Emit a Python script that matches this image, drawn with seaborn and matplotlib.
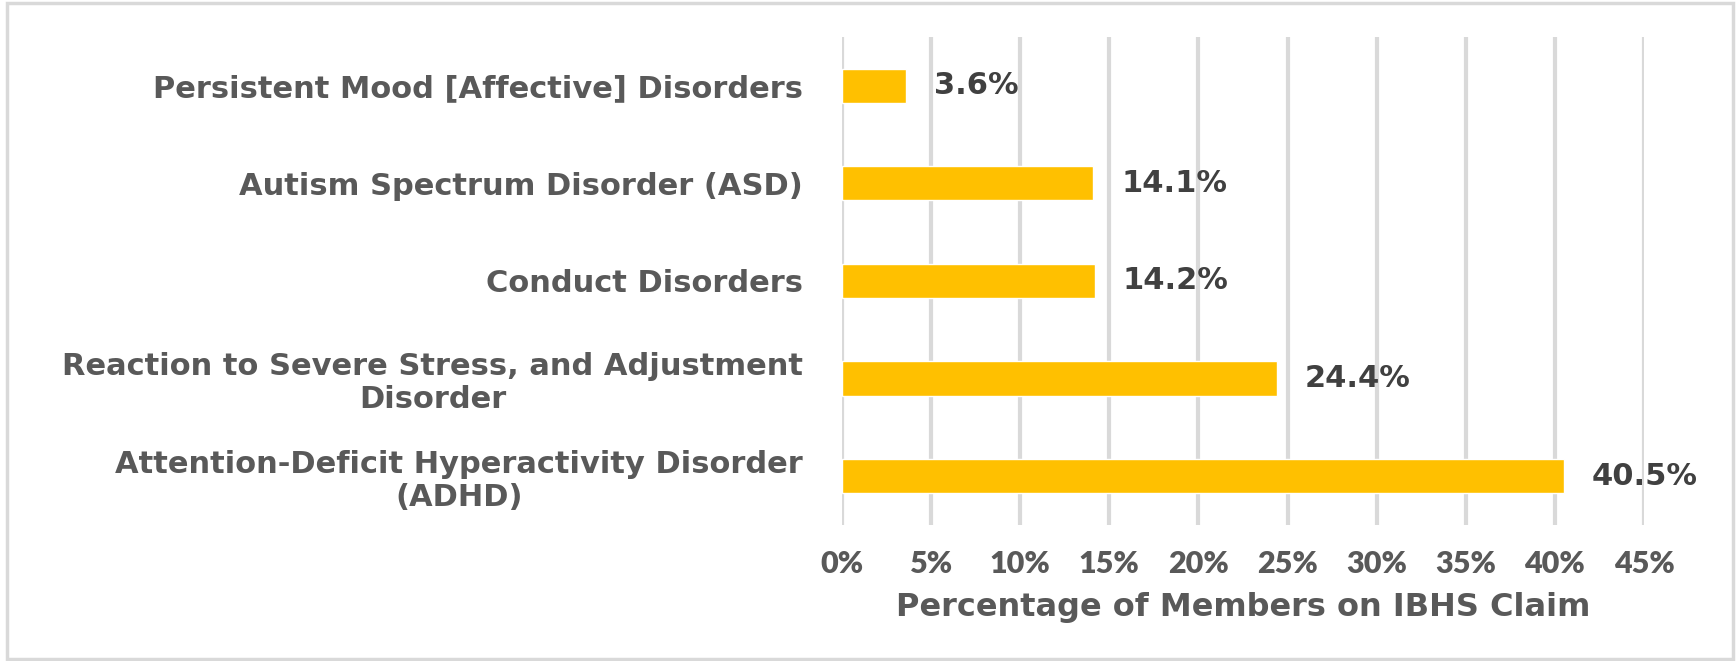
import seaborn as sns
import pandas as pd
import matplotlib.pyplot as plt
from matplotlib.patches import Rectangle
from matplotlib.ticker import MultipleLocator, FuncFormatter

categories = [
    "Persistent Mood [Affective] Disorders",
    "Autism Spectrum Disorder (ASD)",
    "Conduct Disorders",
    "Reaction to Severe Stress, and Adjustment\nDisorder",
    "Attention-Deficit Hyperactivity Disorder\n(ADHD)",
]
percentages = [3.6, 14.1, 14.2, 24.4, 40.5]
x_label = "Percentage of Members on IBHS Claim"

sns.set_theme(style="white")
plt.rcParams['font.family'] = ['Lato', 'DejaVu Sans']

df = pd.DataFrame({"category": categories, "pct": percentages})

fig = plt.figure(figsize=(17.36, 6.61), dpi=100)
ax = fig.add_axes([0.485, 0.206, 0.462, 0.738])

sns.barplot(data=df, y="category", x="pct", color="#FFC000", saturation=1,
            width=0.35, orient="h", ax=ax)

ax.set_xlim(0, 45)
ax.xaxis.set_major_locator(MultipleLocator(5))
ax.xaxis.set_major_formatter(FuncFormatter(lambda v, p: f"{v:.0f}%"))
ax.grid(axis="x", color="#d9d9d9", linewidth=3)
ax.set_axisbelow(True)
for s in ax.spines.values():
    s.set_visible(False)

ax.tick_params(axis="x", length=0, pad=18, labelsize=22, labelcolor="#595959")
ax.tick_params(axis="y", length=0, pad=28, labelsize=21, labelcolor="#595959")
for t in ax.get_xticklabels():
    t.set_fontweight("heavy")
for t in ax.get_yticklabels():
    t.set_fontweight("bold")
    t.set_family("DejaVu Sans")
    t.set_fontsize(22)
    t.set_multialignment("center")
    t.set_linespacing(1.15)

ax.set_ylabel("")
ax.set_xlabel(x_label, fontsize=23, fontweight="bold", color="#595959",
              labelpad=10, family="DejaVu Sans")

for i, v in enumerate(percentages):
    ax.annotate(f"{v}%", xy=(v, i), xytext=(20, 0), textcoords="offset points",
                va="center", ha="left", fontsize=22, fontweight="bold",
                color="#404040", family="DejaVu Sans")

fig.patches.append(Rectangle((7 / 1736, 2 / 661), 1726 / 1736, 656 / 661,
                             transform=fig.transFigure, fill=False,
                             edgecolor="#d9d9d9", linewidth=2.5))

fig.savefig("out.png", dpi=100, facecolor="white")
